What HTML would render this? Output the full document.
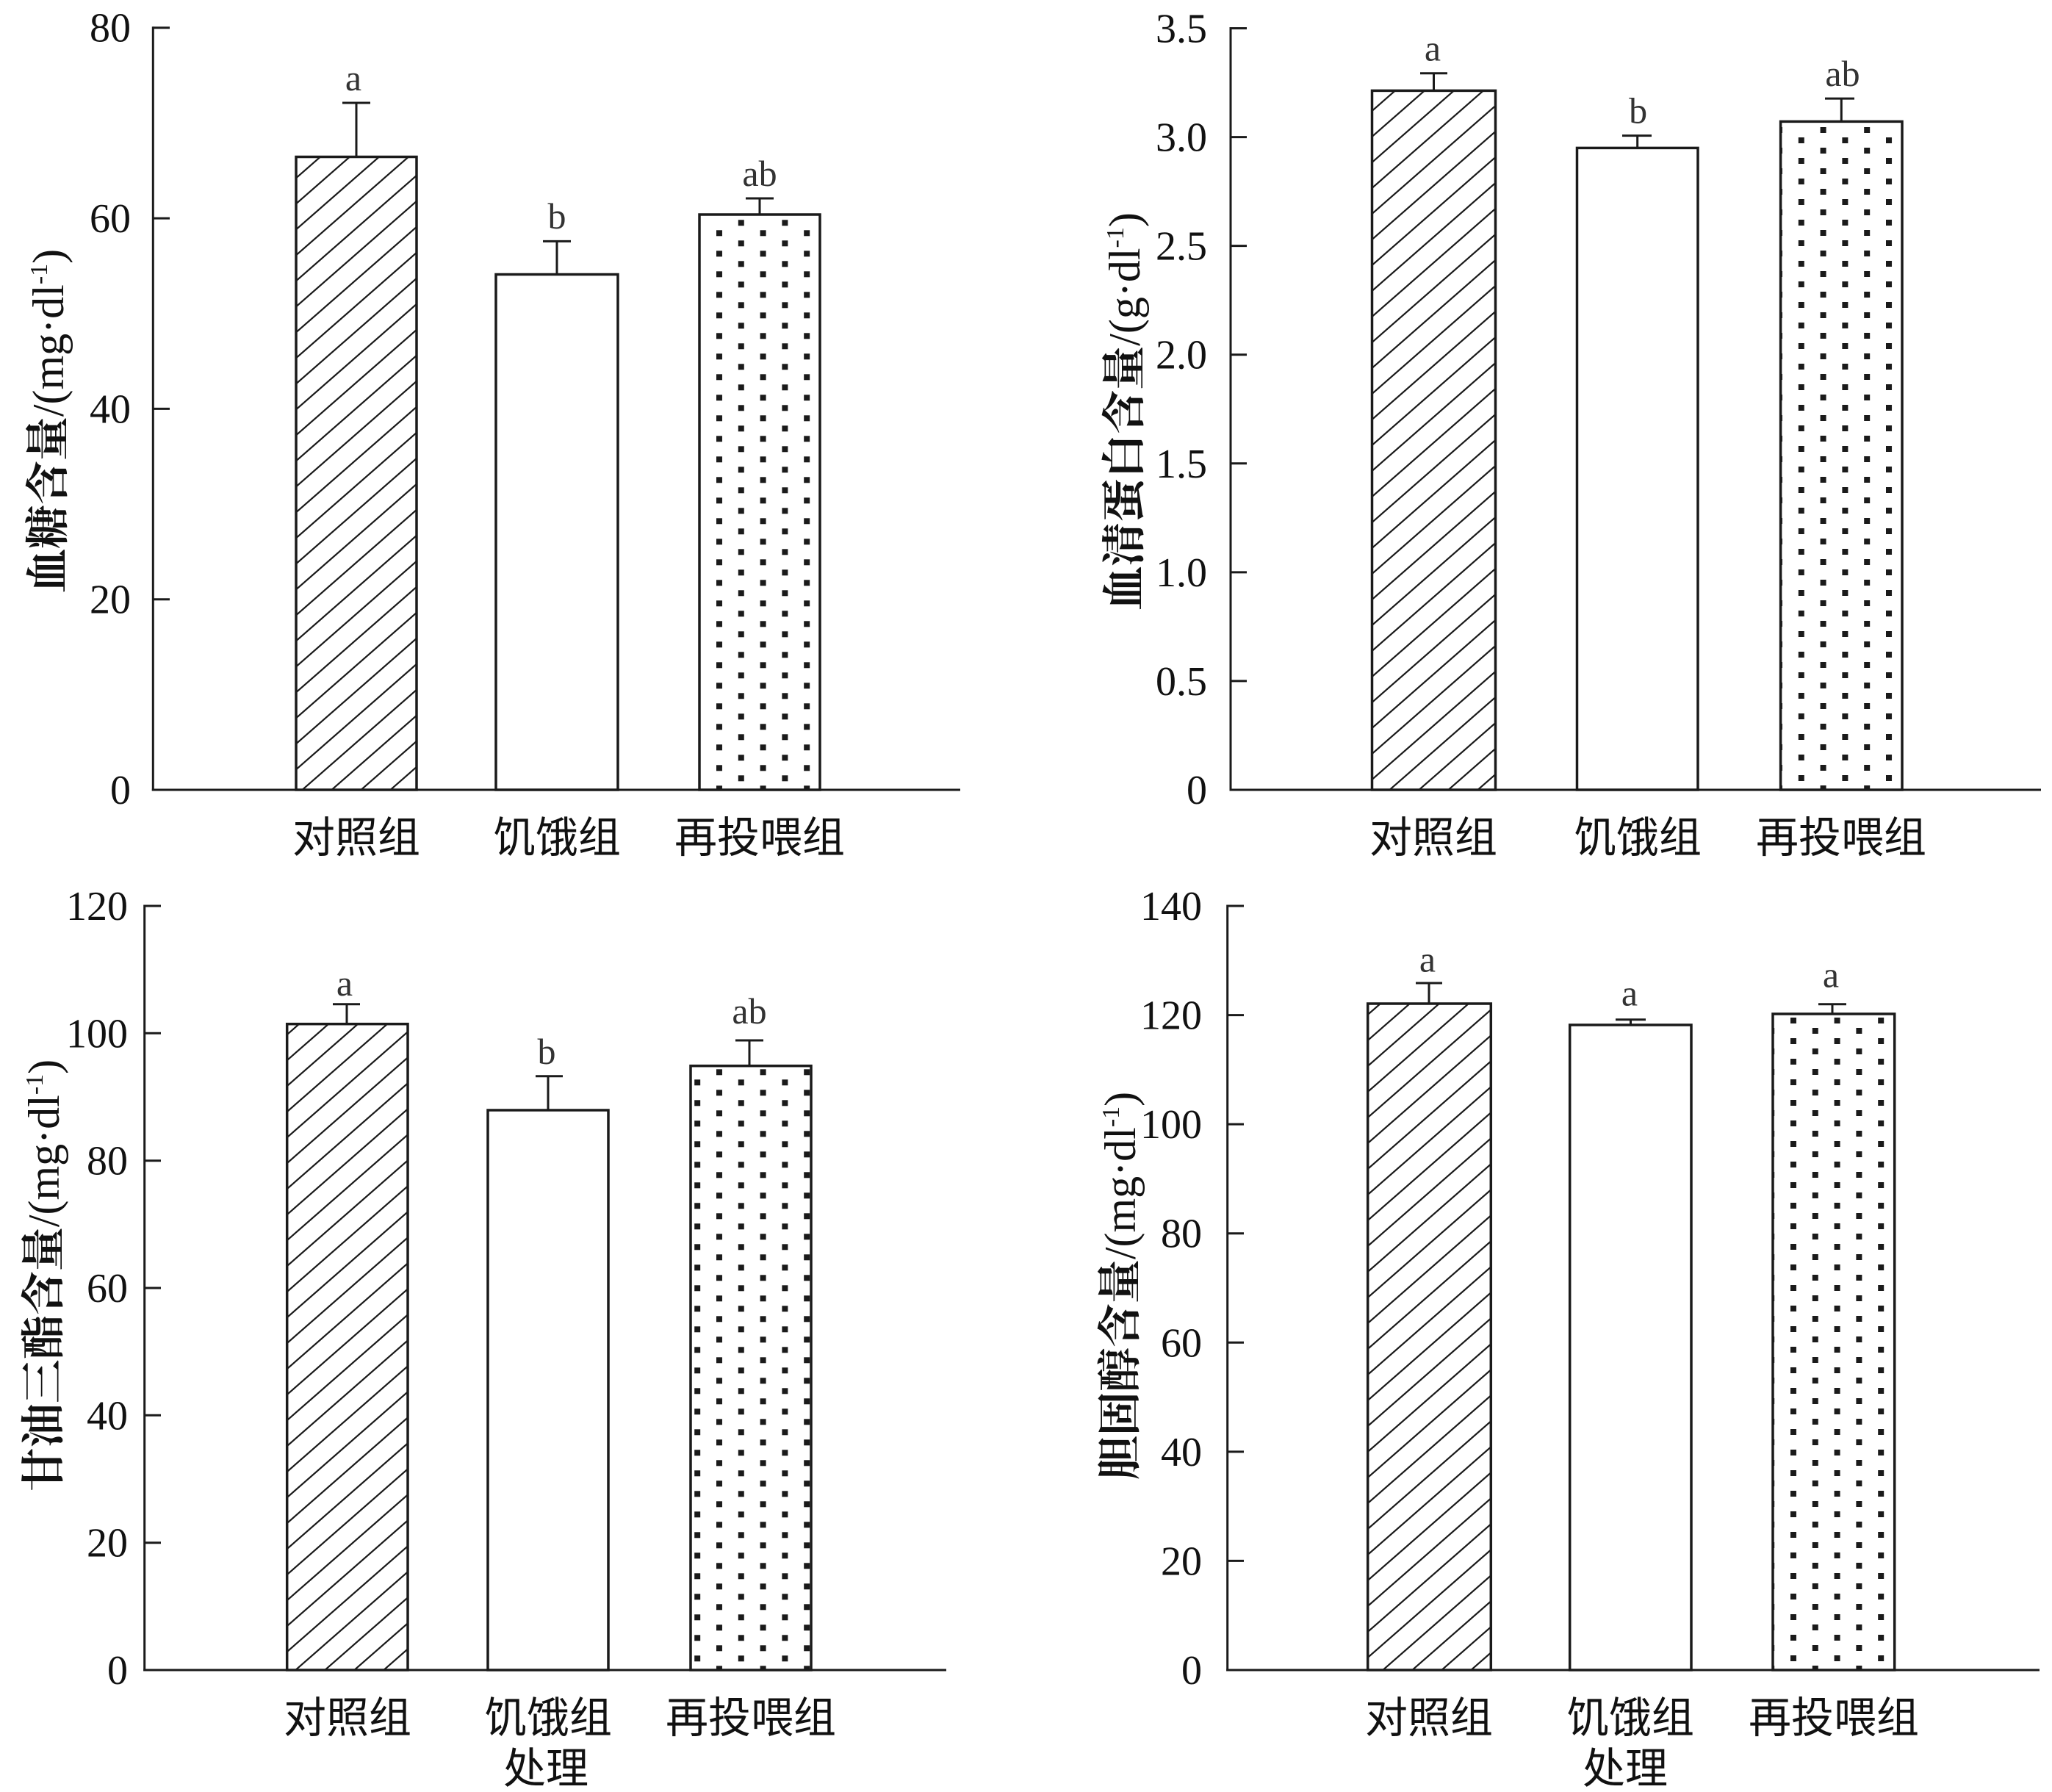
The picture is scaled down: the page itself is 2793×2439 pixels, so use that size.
<!DOCTYPE html>
<html><head><meta charset="utf-8">
<style>
html,body{margin:0;padding:0;background:#fff;}
svg{display:block;}
.tk{font-family:"Liberation Serif","Noto Serif CJK SC",serif;font-size:56px;fill:#111;text-anchor:end;}
.lt{font-family:"Liberation Serif",serif;font-size:50px;fill:#333;text-anchor:middle;}
.cat{font-family:"Liberation Sans","Noto Sans CJK SC",sans-serif;font-size:58px;fill:#111;text-anchor:middle;}
.ttl{font-family:"Liberation Serif","Noto Serif CJK SC",serif;font-size:60px;fill:#111;text-anchor:middle;}
.cjkb{font-family:"Noto Serif CJK SC","Noto Sans CJK SC",serif;font-weight:bold;}
.cjkn{font-family:"Noto Serif CJK SC","Noto Sans CJK SC",serif;font-weight:bold;}
</style></head>
<body>
<svg width="2793" height="2439" viewBox="0 0 2793 2439" xmlns="http://www.w3.org/2000/svg">
<defs>
<pattern id="hat" patternUnits="userSpaceOnUse" width="40" height="35">
<path d="M-40,35 L40,-35 M-40,70 L80,-35 M0,70 L80,0" stroke="#1a1a1a" stroke-width="2.2" fill="none"/>
</pattern>
<pattern id="dot1" patternUnits="userSpaceOnUse" x="975" y="313.3" width="59.6" height="28">
<rect x="0" y="0" width="8" height="8" fill="#1a1a1a"/><rect x="29.8" y="14" width="8" height="8" fill="#1a1a1a"/>
</pattern>
<pattern id="dot2" patternUnits="userSpaceOnUse" x="2447.8" y="187" width="59.6" height="28">
<rect x="0" y="0" width="8" height="8" fill="#1a1a1a"/><rect x="29.8" y="14" width="8" height="8" fill="#1a1a1a"/>
</pattern>
<pattern id="dot3" patternUnits="userSpaceOnUse" x="975" y="1455.3" width="59.6" height="28">
<rect x="0" y="0" width="8" height="8" fill="#1a1a1a"/><rect x="29.8" y="14" width="8" height="8" fill="#1a1a1a"/>
</pattern>
<pattern id="dot4" patternUnits="userSpaceOnUse" x="2437" y="1385" width="59.6" height="28">
<rect x="0" y="0" width="8" height="8" fill="#1a1a1a"/><rect x="29.8" y="14" width="8" height="8" fill="#1a1a1a"/>
</pattern>
</defs>
<rect width="2793" height="2439" fill="#fff"/>

<!-- ================= PANEL 1 ================= -->
<g stroke="#1a1a1a" stroke-width="3" fill="none">
<line x1="208.3" y1="36.2" x2="208.3" y2="1076.5"/>
<line x1="206.8" y1="1075" x2="1307" y2="1075"/>
<line x1="208.3" y1="37.7" x2="231" y2="37.7"/>
<line x1="208.3" y1="297.1" x2="231" y2="297.1"/>
<line x1="208.3" y1="556.4" x2="231" y2="556.4"/>
<line x1="208.3" y1="815.7" x2="231" y2="815.7"/>
</g>
<text class="tk" x="178" y="56.7">80</text>
<text class="tk" x="178" y="316.1">60</text>
<text class="tk" x="178" y="575.4">40</text>
<text class="tk" x="178" y="834.7">20</text>
<text class="tk" x="178" y="1094">0</text>
<!-- bars -->
<rect x="403" y="213.5" width="164" height="861.5" fill="url(#hat)" stroke="#1a1a1a" stroke-width="3.5"/>
<rect x="675" y="373.5" width="166" height="701.5" fill="#fff" stroke="#1a1a1a" stroke-width="3.5"/>
<rect x="952" y="292" width="164" height="783" fill="url(#dot1)" stroke="#1a1a1a" stroke-width="3.5"/>
<g stroke="#1a1a1a" stroke-width="3">
<line x1="485" y1="213.5" x2="485" y2="140"/><line x1="466" y1="140" x2="504" y2="140"/>
<line x1="758" y1="373.5" x2="758" y2="328.4"/><line x1="739" y1="328.4" x2="777" y2="328.4"/>
<line x1="1034" y1="292" x2="1034" y2="270"/><line x1="1015" y1="270" x2="1053" y2="270"/>
</g>
<text class="lt" x="481" y="123">a</text>
<text class="lt" x="758" y="311">b</text>
<text class="lt" x="1034" y="253">ab</text>
<text class="cat" x="485" y="1160">对照组</text>
<text class="cat" x="758" y="1160">饥饿组</text>
<text class="cat" x="1034" y="1160">再投喂组</text>
<text class="ttl" transform="translate(86,573) rotate(-90)"><tspan class="cjkb">血糖含量</tspan>/(mg·dl<tspan font-size="34" dy="-22">-1</tspan><tspan dy="22">)</tspan></text>

<!-- ================= PANEL 2 ================= -->
<g stroke="#1a1a1a" stroke-width="3" fill="none">
<line x1="1675" y1="37" x2="1675" y2="1076.5"/>
<line x1="1673.5" y1="1075" x2="2778" y2="1075"/>
<line x1="1675" y1="38.5" x2="1697" y2="38.5"/>
<line x1="1675" y1="186.6" x2="1697" y2="186.6"/>
<line x1="1675" y1="334.6" x2="1697" y2="334.6"/>
<line x1="1675" y1="482.7" x2="1697" y2="482.7"/>
<line x1="1675" y1="630.8" x2="1697" y2="630.8"/>
<line x1="1675" y1="778.9" x2="1697" y2="778.9"/>
<line x1="1675" y1="926.9" x2="1697" y2="926.9"/>
</g>
<text class="tk" x="1643" y="57.5">3.5</text>
<text class="tk" x="1643" y="205.6">3.0</text>
<text class="tk" x="1643" y="353.6">2.5</text>
<text class="tk" x="1643" y="501.7">2.0</text>
<text class="tk" x="1643" y="649.8">1.5</text>
<text class="tk" x="1643" y="797.9">1.0</text>
<text class="tk" x="1643" y="945.9">0.5</text>
<text class="tk" x="1643" y="1094">0</text>
<rect x="1867.5" y="123.4" width="168" height="951.6" fill="url(#hat)" stroke="#1a1a1a" stroke-width="3.5"/>
<rect x="2146.5" y="201.4" width="164.5" height="873.6" fill="#fff" stroke="#1a1a1a" stroke-width="3.5"/>
<rect x="2423.6" y="165.4" width="165.4" height="909.6" fill="url(#dot2)" stroke="#1a1a1a" stroke-width="3.5"/>
<g stroke="#1a1a1a" stroke-width="3">
<line x1="1951.5" y1="123.4" x2="1951.5" y2="99.7"/><line x1="1933" y1="99.7" x2="1970" y2="99.7"/>
<line x1="2228.7" y1="201.4" x2="2228.7" y2="184.6"/><line x1="2208" y1="184.6" x2="2248" y2="184.6"/>
<line x1="2506.3" y1="165.4" x2="2506.3" y2="134.1"/><line x1="2484" y1="134.1" x2="2524" y2="134.1"/>
</g>
<text class="lt" x="1950" y="82.7">a</text>
<text class="lt" x="2229.6" y="167.6">b</text>
<text class="lt" x="2508" y="117">ab</text>
<text class="cat" x="1951" y="1160">对照组</text>
<text class="cat" x="2229" y="1160">饥饿组</text>
<text class="cat" x="2506" y="1160">再投喂组</text>
<text class="ttl" transform="translate(1551,560) rotate(-90)"><tspan class="cjkb">血清蛋白含量</tspan>/(g·dl<tspan font-size="34" dy="-22">-1</tspan><tspan dy="22">)</tspan></text>

<!-- ================= PANEL 3 ================= -->
<g stroke="#1a1a1a" stroke-width="3" fill="none">
<line x1="196.7" y1="1231.5" x2="196.7" y2="2274.5"/>
<line x1="195.2" y1="2273" x2="1288" y2="2273"/>
<line x1="196.7" y1="1233" x2="219" y2="1233"/>
<line x1="196.7" y1="1406.3" x2="219" y2="1406.3"/>
<line x1="196.7" y1="1579.7" x2="219" y2="1579.7"/>
<line x1="196.7" y1="1753" x2="219" y2="1753"/>
<line x1="196.7" y1="1926.3" x2="219" y2="1926.3"/>
<line x1="196.7" y1="2099.7" x2="219" y2="2099.7"/>
</g>
<text class="tk" x="174" y="1252">120</text>
<text class="tk" x="174" y="1425.3">100</text>
<text class="tk" x="174" y="1598.7">80</text>
<text class="tk" x="174" y="1772">60</text>
<text class="tk" x="174" y="1945.3">40</text>
<text class="tk" x="174" y="2118.7">20</text>
<text class="tk" x="174" y="2292">0</text>
<rect x="390.7" y="1393.7" width="164.3" height="879.3" fill="url(#hat)" stroke="#1a1a1a" stroke-width="3.5"/>
<rect x="664" y="1511" width="164" height="762" fill="#fff" stroke="#1a1a1a" stroke-width="3.5"/>
<rect x="940" y="1450.7" width="164" height="822.3" fill="url(#dot3)" stroke="#1a1a1a" stroke-width="3.5"/>
<g stroke="#1a1a1a" stroke-width="3">
<line x1="472" y1="1393.7" x2="472" y2="1366.7"/><line x1="453" y1="1366.7" x2="490" y2="1366.7"/>
<line x1="746" y1="1511" x2="746" y2="1464.7"/><line x1="729" y1="1464.7" x2="766" y2="1464.7"/>
<line x1="1020" y1="1450.7" x2="1020" y2="1416"/><line x1="1001" y1="1416" x2="1039" y2="1416"/>
</g>
<text class="lt" x="469" y="1355">a</text>
<text class="lt" x="744" y="1448">b</text>
<text class="lt" x="1020" y="1393">ab</text>
<text class="cat" x="473" y="2358">对照组</text>
<text class="cat" x="746" y="2358">饥饿组</text>
<text class="cat" x="1022" y="2358">再投喂组</text>
<text class="cat" x="743" y="2427">处理</text>
<text class="ttl" transform="translate(80,1736) rotate(-90)"><tspan class="cjkn">甘油三酯含量</tspan>/(mg·dl<tspan font-size="34" dy="-22">-1</tspan><tspan dy="22">)</tspan></text>

<!-- ================= PANEL 4 ================= -->
<g stroke="#1a1a1a" stroke-width="3" fill="none">
<line x1="1670.7" y1="1231.5" x2="1670.7" y2="2274.5"/>
<line x1="1669.2" y1="2273" x2="2776" y2="2273"/>
<line x1="1670.7" y1="1233" x2="1693" y2="1233"/>
<line x1="1670.7" y1="1381.6" x2="1693" y2="1381.6"/>
<line x1="1670.7" y1="1530.1" x2="1693" y2="1530.1"/>
<line x1="1670.7" y1="1678.7" x2="1693" y2="1678.7"/>
<line x1="1670.7" y1="1827.3" x2="1693" y2="1827.3"/>
<line x1="1670.7" y1="1975.9" x2="1693" y2="1975.9"/>
<line x1="1670.7" y1="2124.4" x2="1693" y2="2124.4"/>
</g>
<text class="tk" x="1636" y="1252">140</text>
<text class="tk" x="1636" y="1400.6">120</text>
<text class="tk" x="1636" y="1549.1">100</text>
<text class="tk" x="1636" y="1697.7">80</text>
<text class="tk" x="1636" y="1846.3">60</text>
<text class="tk" x="1636" y="1994.9">40</text>
<text class="tk" x="1636" y="2143.4">20</text>
<text class="tk" x="1636" y="2292">0</text>
<rect x="1861.7" y="1366" width="167.6" height="907" fill="url(#hat)" stroke="#1a1a1a" stroke-width="3.5"/>
<rect x="2136.7" y="1395" width="165.3" height="878" fill="#fff" stroke="#1a1a1a" stroke-width="3.5"/>
<rect x="2413" y="1380" width="165.7" height="893" fill="url(#dot4)" stroke="#1a1a1a" stroke-width="3.5"/>
<g stroke="#1a1a1a" stroke-width="3">
<line x1="1945" y1="1366" x2="1945" y2="1338"/><line x1="1927" y1="1338" x2="1963" y2="1338"/>
<line x1="2219.5" y1="1395" x2="2219.5" y2="1387.7"/><line x1="2199" y1="1387.7" x2="2240" y2="1387.7"/>
<line x1="2494" y1="1380" x2="2494" y2="1366.7"/><line x1="2475" y1="1366.7" x2="2513" y2="1366.7"/>
</g>
<text class="lt" x="1943" y="1322.7">a</text>
<text class="lt" x="2218" y="1368.3">a</text>
<text class="lt" x="2492" y="1343.3">a</text>
<text class="cat" x="1945" y="2358">对照组</text>
<text class="cat" x="2219" y="2358">饥饿组</text>
<text class="cat" x="2496" y="2358">再投喂组</text>
<text class="cat" x="2212" y="2427">处理</text>
<text class="ttl" transform="translate(1545,1750) rotate(-90)"><tspan class="cjkn">胆固醇含量</tspan>/(mg·dl<tspan font-size="34" dy="-22">-1</tspan><tspan dy="22">)</tspan></text>
</svg>
</body></html>
